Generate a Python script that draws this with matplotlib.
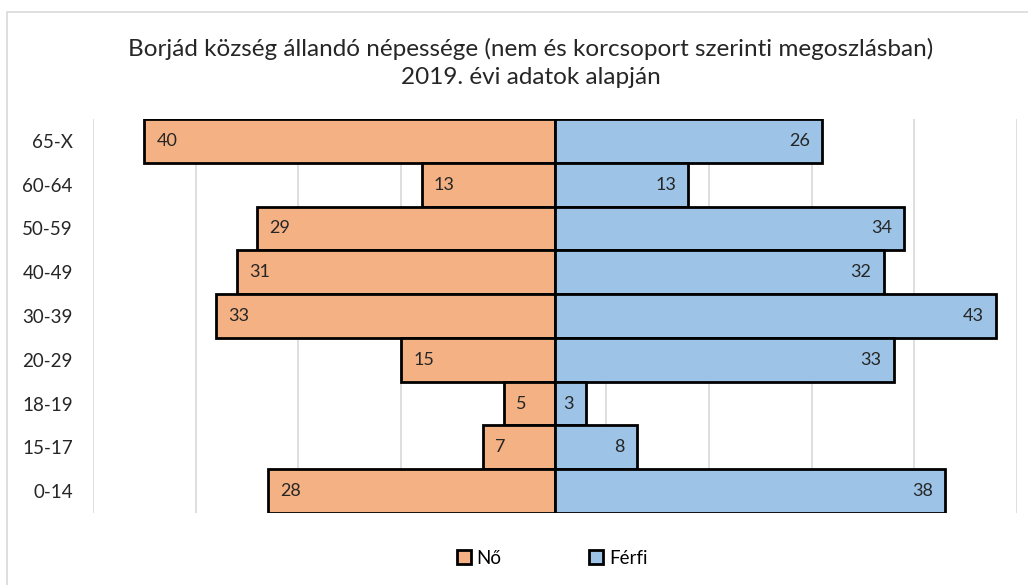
import matplotlib
matplotlib.use("Agg")
import matplotlib.pyplot as plt
from matplotlib.patches import Rectangle, Patch

categories = ["65-X", "60-64", "50-59", "40-49", "30-39", "20-29", "18-19", "15-17", "0-14"]
no_values = [40, 13, 29, 31, 33, 15, 5, 7, 28]
ferfi_values = [26, 13, 34, 32, 43, 33, 3, 8, 38]
series_names = ["Nő", "Férfi"]
title_text = "Borjád község állandó népessége (nem és korcsoport szerinti megoszlásban)\n2019. évi adatok alapján"

plt.rcParams['font.family'] = ['Lato', 'DejaVu Sans']

W, H = 1028, 585
fig = plt.figure(figsize=(W / 100, H / 100), dpi=100)
fig.patch.set_facecolor("white")

# chart border
fig.patches.append(Rectangle((7 / W, -0.1), 1.2, (H - 12) / H + 0.1, transform=fig.transFigure,
                             fill=False, edgecolor="#D9D9D9", linewidth=1.2))

left, right = 93, 1017
top, bottom = 119, 513
ax = fig.add_axes([left / W, 1 - bottom / H, (right - left) / W, (bottom - top) / H])

y = list(range(len(categories)))
orange = "#F4B183"
blue = "#9DC3E6"

ax.barh(y, [-v for v in no_values], height=1.0, color=orange, edgecolor="black", linewidth=2, zorder=3)
ax.barh(y, ferfi_values, height=1.0, color=blue, edgecolor="black", linewidth=2, zorder=3)

ax.set_xlim(-45, 45)
ax.set_ylim(len(categories) - 0.5, -0.5)
ax.set_xticks(range(-45, 46, 10))
ax.xaxis.grid(True, color="#D9D9D9", linewidth=1.2, zorder=0)
ax.set_axisbelow(True)
ax.tick_params(axis="x", bottom=False, labelbottom=False)
ax.tick_params(axis="y", left=False, labelsize=13.5, colors="#262626", pad=11)
ax.set_yticks(y)
ax.set_yticklabels(categories)
for s in ax.spines.values():
    s.set_visible(False)

for i, v in enumerate(no_values):
    ax.text(-v + 1.2, i, str(v), ha="left", va="center", fontsize=13, color="#262626", zorder=4)
for i, v in enumerate(ferfi_values):
    ax.text(v - 1.2, i, str(v), ha="right", va="center", fontsize=13, color="#262626", zorder=4)

fig.text(531 / W, 1 - 63 / H, title_text, ha="center", va="center", fontsize=17.5,
         color="#262626", linespacing=1.45)

handles = [Patch(facecolor=orange, edgecolor="black", linewidth=2),
           Patch(facecolor=blue, edgecolor="black", linewidth=2)]
fig.legend(handles, series_names, loc="center", bbox_to_anchor=(552 / W, 1 - 558 / H), ncol=2,
           frameon=False, fontsize=13.5, handlelength=0.75, handleheight=0.75, handletextpad=0.3,
           columnspacing=4.7)

fig.savefig("out.png", dpi=100)
